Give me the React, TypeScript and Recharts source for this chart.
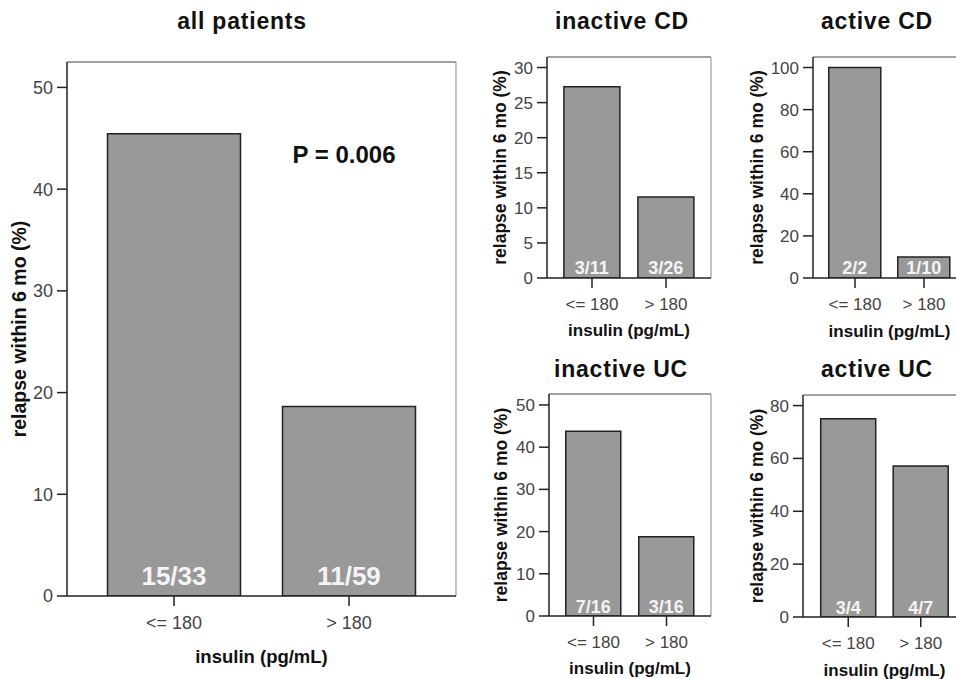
import { Bar, BarChart, Label, LabelList, ReferenceDot, XAxis, YAxis } from "recharts";

// insulin groups on the x axis of every panel
const categories = ["<= 180", "> 180"];

const allPatientsRelapse = [45.45, 18.64];
const allPatientsCounts = ["15/33", "11/59"];
const allPatientsTicks = [0, 10, 20, 30, 40, 50];

const inactiveCdRelapse = [27.27, 11.54];
const inactiveCdCounts = ["3/11", "3/26"];
const inactiveCdTicks = [0, 5, 10, 15, 20, 25, 30];

const activeCdRelapse = [100, 10];
const activeCdCounts = ["2/2", "1/10"];
const activeCdTicks = [0, 20, 40, 60, 80, 100];

const inactiveUcRelapse = [43.75, 18.75];
const inactiveUcCounts = ["7/16", "3/16"];
const inactiveUcTicks = [0, 10, 20, 30, 40, 50];

const activeUcRelapse = [75, 57.14];
const activeUcCounts = ["3/4", "4/7"];
const activeUcTicks = [0, 20, 40, 60, 80];

const Y_LABEL = "relapse within 6 mo (%)";
const X_LABEL = "insulin (pg/mL)";

type Row = { category: string; relapse: number; count: string };

function toRows(values: number[], counts: string[]): Row[] {
  return categories.map((category, i) => ({ category, relapse: values[i], count: counts[i] }));
}

type Layout = {
  title: string;
  titleX: number;
  titleY: number;
  plotLeft: number;
  plotTop: number;
  plotRight: number;
  plotBottom: number;
  yAxisWidth: number;
  xAxisHeight: number;
  padding: number;
  yMax: number;
  yLabelX: number;
  tickFont: number;
  xLabelFont: number;
  yLabelFont: number;
  countFont: number;
  countOffset: number;
};

type PanelProps = {
  data: Row[];
  ticks: number[];
  layout: Layout;
  pValue?: string;
};

function Panel({ data, ticks, layout, pValue }: PanelProps) {
  const boxLeft = layout.plotLeft - layout.yAxisWidth;
  const boxTop = layout.plotTop - 2;
  const width = layout.plotRight + 2 - boxLeft;
  const height = layout.plotBottom + layout.xAxisHeight + 8 - boxTop;

  return (
    <div style={{ position: "absolute", left: boxLeft, top: boxTop }}>
      <BarChart
        width={width}
        height={height}
        data={data}
        margin={{ top: 1, right: 1, bottom: 8, left: 0 }}
        barCategoryGap="12%"
      >
        {/* top and right edges of the box round the plot */}
        <XAxis
          xAxisId="frame"
          orientation="top"
          dataKey="category"
          height={1}
          tick={false}
          tickLine={false}
          axisLine={{ stroke: "#444", strokeWidth: 1.2 }}
        />
        <YAxis
          yAxisId="frame"
          orientation="right"
          width={1}
          domain={[0, layout.yMax]}
          tick={false}
          tickLine={false}
          axisLine={{ stroke: "#9a9a9a", strokeWidth: 1.2 }}
        />
        <XAxis
          xAxisId="x"
          dataKey="category"
          height={layout.xAxisHeight}
          padding={{ left: layout.padding, right: layout.padding }}
          interval={0}
          tickSize={10}
          tickMargin={10}
          tick={{ fill: "#444", fontSize: layout.tickFont }}
          tickLine={{ stroke: "#222", strokeWidth: 1.5 }}
          axisLine={{ stroke: "#222", strokeWidth: 1.5 }}
        >
          <Label
            value={X_LABEL}
            position="insideBottom"
            offset={0}
            fill="#111"
            fontSize={layout.xLabelFont}
            fontWeight="bold"
          />
        </XAxis>
        <YAxis
          yAxisId="y"
          width={layout.yAxisWidth}
          domain={[0, layout.yMax]}
          ticks={ticks}
          interval={0}
          allowDataOverflow
          tickSize={10}
          tickMargin={4}
          tick={{ fill: "#444", fontSize: layout.tickFont }}
          tickLine={{ stroke: "#222", strokeWidth: 1.5 }}
          axisLine={{ stroke: "#222", strokeWidth: 1.5 }}
        >
          <Label
            value={Y_LABEL}
            angle={-90}
            position="insideLeft"
            offset={layout.yLabelX - boxLeft}
            style={{ textAnchor: "middle" }}
            fill="#111"
            fontSize={layout.yLabelFont}
            fontWeight="bold"
          />
        </YAxis>
        <Bar
          xAxisId="x"
          yAxisId="y"
          dataKey="relapse"
          fill="#999999"
          stroke="#222"
          strokeWidth={1.5}
          isAnimationActive={false}
        >
          <LabelList
            dataKey="count"
            position="insideBottom"
            offset={layout.countOffset}
            fill="#f4f4f4"
            fontSize={layout.countFont}
            fontWeight="bold"
          />
        </Bar>
        {pValue && (
          <ReferenceDot
            xAxisId="x"
            yAxisId="y"
            x="> 180"
            y={43.4}
            r={0}
            fill="none"
            stroke="none"
            label={{ value: pValue, position: "center", dx: -5, fill: "#111", fontSize: 24, fontWeight: "bold" }}
          />
        )}
      </BarChart>
    </div>
  );
}

const allLayout: Layout = {
  title: "all patients", titleX: 242, titleY: 29,
  plotLeft: 67, plotTop: 62, plotRight: 456, plotBottom: 596,
  yAxisWidth: 67, xAxisHeight: 67, padding: 19.5, yMax: 52.5, yLabelX: 19,
  tickFont: 18, xLabelFont: 18.5, yLabelFont: 19.5, countFont: 26, countOffset: 11,
};

const inactiveCdLayout: Layout = {
  title: "inactive CD", titleX: 622, titleY: 29,
  plotLeft: 547, plotTop: 57, plotRight: 711, plotBottom: 278,
  yAxisWidth: 60, xAxisHeight: 58, padding: 8, yMax: 31.5, yLabelX: 500,
  tickFont: 17, xLabelFont: 17, yLabelFont: 17.5, countFont: 18, countOffset: 4,
};

const activeCdLayout: Layout = {
  title: "active CD", titleX: 877, titleY: 29,
  plotLeft: 813, plotTop: 57, plotRight: 966, plotBottom: 278,
  yAxisWidth: 68, xAxisHeight: 59, padding: 7.5, yMax: 105, yLabelX: 757,
  tickFont: 17, xLabelFont: 17, yLabelFont: 17.5, countFont: 18, countOffset: 4,
};

const inactiveUcLayout: Layout = {
  title: "inactive UC", titleX: 621, titleY: 377,
  plotLeft: 549, plotTop: 394, plotRight: 711, plotBottom: 616,
  yAxisWidth: 60, xAxisHeight: 58, padding: 8, yMax: 52.6, yLabelX: 501,
  tickFont: 17, xLabelFont: 17, yLabelFont: 17.5, countFont: 18, countOffset: 3,
};

const activeUcLayout: Layout = {
  title: "active UC", titleX: 877, titleY: 377,
  plotLeft: 803, plotTop: 395, plotRight: 966, plotBottom: 617,
  yAxisWidth: 60, xAxisHeight: 59, padding: 9, yMax: 84, yLabelX: 757,
  tickFont: 17, xLabelFont: 17, yLabelFont: 17.5, countFont: 18, countOffset: 3,
};

const layouts = [allLayout, inactiveCdLayout, activeCdLayout, inactiveUcLayout, activeUcLayout];

export default function App() {
  return (
    <div
      style={{
        position: "fixed",
        left: 0,
        top: 0,
        width: 956,
        height: 679,
        overflow: "hidden",
        background: "#fff",
        fontFamily: "'Liberation Sans', Arial, sans-serif",
      }}
    >
      <Panel data={toRows(allPatientsRelapse, allPatientsCounts)} ticks={allPatientsTicks} layout={allLayout} pValue="P = 0.006" />
      <Panel data={toRows(inactiveCdRelapse, inactiveCdCounts)} ticks={inactiveCdTicks} layout={inactiveCdLayout} />
      <Panel data={toRows(activeCdRelapse, activeCdCounts)} ticks={activeCdTicks} layout={activeCdLayout} />
      <Panel data={toRows(inactiveUcRelapse, inactiveUcCounts)} ticks={inactiveUcTicks} layout={inactiveUcLayout} />
      <Panel data={toRows(activeUcRelapse, activeUcCounts)} ticks={activeUcTicks} layout={activeUcLayout} />
      <svg width={956} height={679} style={{ position: "absolute", left: 0, top: 0, pointerEvents: "none" }}>
        {layouts.map((l) => (
          <text
            key={l.title}
            x={l.titleX}
            y={l.titleY}
            textAnchor="middle"
            fontSize={23}
            fontWeight="bold"
            letterSpacing={0.8}
            fill="#111"
          >
            {l.title}
          </text>
        ))}
      </svg>
    </div>
  );
}
